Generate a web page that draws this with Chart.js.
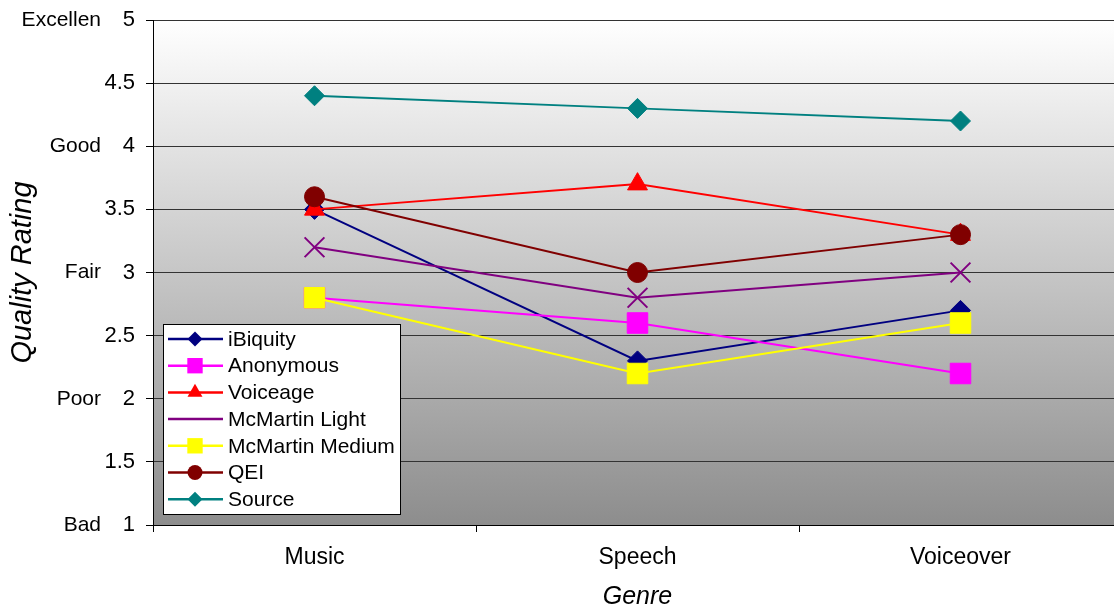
<!DOCTYPE html>
<html>
<head>
<meta charset="utf-8">
<script src="https://cdn.jsdelivr.net/npm/chart.js@4"></script>
<style>
  html, body { margin: 0; padding: 0; overflow: hidden; background: #fff; }
  #chart { display: block; }
</style>
</head>
<body>
<canvas id="chart" width="1122" height="612"></canvas>
<script>
// Listening-test results: mean quality rating per codec and genre
const genres = ['Music', 'Speech', 'Voiceover'];
const seriesNames = ['iBiquity', 'Anonymous', 'Voiceage', 'McMartin Light', 'McMartin Medium', 'QEI', 'Source'];
const iBiquity       = [3.5, 2.3, 2.7];
const anonymous      = [2.8, 2.6, 2.2];
const voiceage       = [3.5, 3.7, 3.3];
const mcMartinLight  = [3.2, 2.8, 3.0];
const mcMartinMedium = [2.8, 2.2, 2.6];
const qei            = [3.6, 3.0, 3.3];
const source         = [4.4, 4.3, 4.2];
const ratingWords = { 1: 'Bad', 2: 'Poor', 3: 'Fair', 4: 'Good', 5: 'Excellen' };

const seriesValues = [iBiquity, anonymous, voiceage, mcMartinLight, mcMartinMedium, qei, source];

const FONT = "'Liberation Sans', Arial, Helvetica, sans-serif";

const styles = [
  { color: '#000080', point: 'rectRot',  r: 10 },
  { color: '#ff00ff', point: 'rect',     r: 14.5 },
  { color: '#ff0000', point: 'triangle', r: 11.5 },
  { color: '#800080', point: 'crossRot', r: 14 },
  { color: '#ffff00', point: 'rect',     r: 14.5 },
  { color: '#800000', point: 'circle',   r: 10 },
  { color: '#008080', point: 'rectRot',  r: 10 }
];

// Keep the plot edges fixed: no extra room reserved for overhanging labels
function fixBox(size) {
  return function (scale) {
    if (scale.isHorizontal()) scale.height = size; else scale.width = size;
    scale.paddingTop = 0;
    scale.paddingBottom = 0;
    scale.paddingLeft = 0;
    scale.paddingRight = 0;
  };
}

// Gray gradient behind the plotting area
const plotBackground = {
  id: 'plotBackground',
  beforeDraw(chart) {
    const { ctx, chartArea: a } = chart;
    const g = ctx.createLinearGradient(0, a.top, 0, a.bottom);
    g.addColorStop(0, '#ffffff');
    g.addColorStop(1, '#8d8d8d');
    ctx.save();
    ctx.fillStyle = g;
    ctx.fillRect(a.left, a.top, a.right - a.left, a.bottom - a.top);
    ctx.restore();
  }
};

// Boxed legend in the lower-left corner of the plot
const boxedLegend = {
  id: 'boxedLegend',
  afterDatasetsDraw(chart) {
    const { ctx, chartArea: a } = chart;
    const x0 = a.left + 10, w = 237, h = 190;
    const y0 = a.bottom - 11 - h;
    ctx.save();
    ctx.fillStyle = '#ffffff';
    ctx.fillRect(x0, y0, w, h);
    ctx.strokeStyle = '#000000';
    ctx.lineWidth = 1;
    ctx.strokeRect(x0 + 0.5, y0 + 0.5, w, h);
    const step = 26.7;
    ctx.font = '21px ' + FONT;
    ctx.textBaseline = 'middle';
    chart.data.datasets.forEach((ds, i) => {
      const st = styles[i];
      const y = y0 + 15 + i * step;
      ctx.strokeStyle = st.color;
      ctx.lineWidth = 2.5;
      ctx.beginPath();
      ctx.moveTo(x0 + 5, y);
      ctx.lineTo(x0 + 60, y);
      ctx.stroke();
      ctx.fillStyle = st.color;
      ctx.lineWidth = st.point === 'crossRot' ? 2 : 1;
      Chart.helpers.drawPoint(ctx, { pointStyle: st.point, radius: st.r * 0.75, rotation: 0 }, x0 + 32, y);
      ctx.fillStyle = '#000000';
      ctx.fillText(ds.label, x0 + 65, y + 1);
    });
    ctx.restore();
  }
};

const datasets = seriesNames.map((name, i) => ({
  label: name,
  data: seriesValues[i],
  yAxisID: 'y',
  borderColor: styles[i].color,
  backgroundColor: styles[i].color,
  borderWidth: 2,
  tension: 0,
  pointStyle: styles[i].point,
  pointRadius: styles[i].r,
  pointHoverRadius: styles[i].r,
  pointBorderWidth: styles[i].point === 'crossRot' ? 2 : 1,
  pointBorderColor: styles[i].color,
  pointBackgroundColor: styles[i].color,
  order: seriesNames.length - i
}));

new Chart(document.getElementById('chart'), {
  type: 'line',
  data: { labels: genres, datasets },
  plugins: [plotBackground, boxedLegend],
  options: {
    responsive: false,
    animation: false,
    events: [],
    layout: { autoPadding: false, padding: { top: 20, left: 0, right: 0, bottom: 0 } },
    plugins: { legend: { display: false }, tooltip: { enabled: false } },
    scales: {
      x: {
        type: 'category',
        offset: true,
        grid: { offset: true, drawOnChartArea: false, tickLength: 7, color: '#000', tickColor: '#000' },
        border: { color: '#000', width: 1 },
        ticks: { font: { family: FONT, size: 23 }, color: '#000', padding: 12, maxRotation: 0 },
        title: { display: true, text: 'Genre', color: '#000', font: { family: FONT, size: 25, style: 'italic' }, padding: { top: 0, bottom: 0 } },
        afterFit: fixBox(87)
      },
      y: {
        position: 'left',
        min: 1,
        max: 5,
        weight: 0,
        ticks: { stepSize: 0.5, font: { family: FONT, size: 22 }, color: '#000', padding: 11, callback: (v) => String(v) },
        grid: { color: '#333', tickLength: 7, tickColor: '#000', lineWidth: 1 },
        border: { color: '#000', width: 1 },
        afterFit: fixBox(50)
      },
      yWords: {
        position: 'left',
        min: 1,
        max: 5,
        weight: 1,
        ticks: {
          stepSize: 1,
          font: { family: FONT, size: 21 },
          color: '#000',
          padding: 2,
          callback: (v) => ratingWords[v] || ''
        },
        grid: { display: false, drawTicks: false },
        border: { display: false },
        title: { display: true, text: 'Quality Rating', color: '#000', font: { family: FONT, size: 29, style: 'italic' }, padding: { top: 6, bottom: 0 } },
        afterFit: fixBox(103)
      }
    }
  }
});
</script>
</body>
</html>
